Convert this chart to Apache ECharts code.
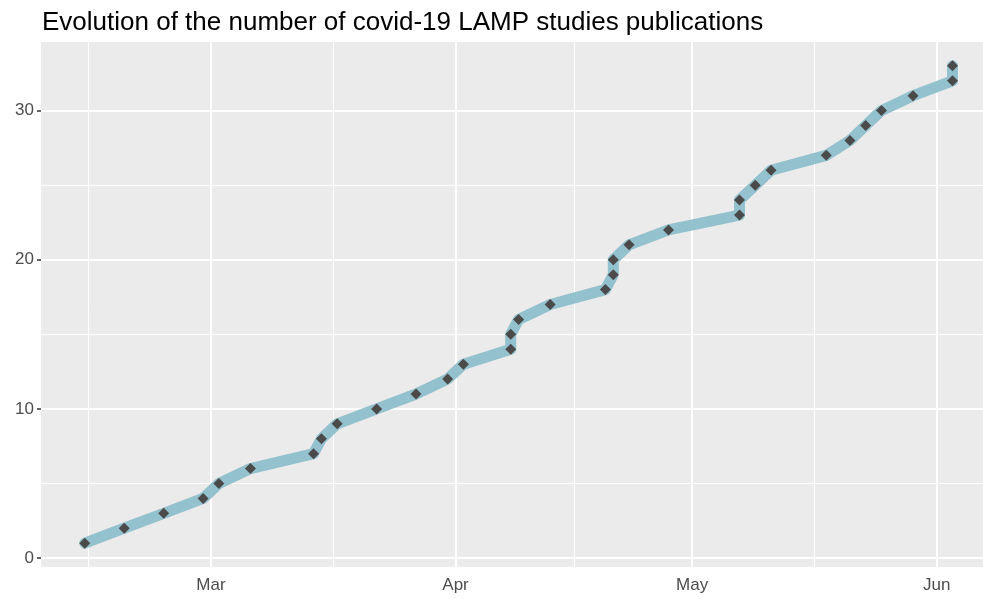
<!DOCTYPE html>
<html>
<head>
<meta charset="utf-8">
<script src="https://cdn.jsdelivr.net/npm/echarts@6/dist/echarts.min.js"></script>
<style>html,body{margin:0;padding:0;background:#fff;}#c{width:983px;height:598px;}</style>
</head>
<body>
<div id="c"></div>
<script>
// ---- data ----
var dates = ['2020-02-14','2020-02-19','2020-02-24','2020-02-29','2020-03-02','2020-03-06',
  '2020-03-14','2020-03-15','2020-03-17','2020-03-22','2020-03-27','2020-03-31','2020-04-02',
  '2020-04-08','2020-04-08','2020-04-09','2020-04-13','2020-04-20','2020-04-21','2020-04-21',
  '2020-04-23','2020-04-28','2020-05-07','2020-05-07','2020-05-09','2020-05-11','2020-05-18',
  '2020-05-21','2020-05-23','2020-05-25','2020-05-29','2020-06-03','2020-06-03'];
var counts = [1,2,3,4,5,6,7,8,9,10,11,12,13,14,15,16,17,18,19,20,21,22,23,24,25,26,27,28,29,30,31,32,33];
var monthTickDates = ['2020-03-01','2020-04-01','2020-05-01','2020-06-01'];
var monthLabels = ['Mar','Apr','May','Jun'];
var minorXDates = ['2020-02-14T12:00','2020-03-16T12:00','2020-04-16T00:00','2020-05-16T12:00'];
var yTicks = [0,10,20,30];
var yMinor = [5,15,25];

function toUTC(s){
  var p = s.split('T'); var d = p[0].split('-');
  var h = p[1] ? +p[1].split(':')[0] : 0;
  return Date.UTC(+d[0], +d[1]-1, +d[2], h);
}
var DAY = 864e5;
var seriesData = dates.map(function(d,i){ return [toUTC(d), counts[i]]; });
var tickVals = monthTickDates.map(toUTC);
var xMin = toUTC('2020-03-01') - 21.55*DAY;
var xMax = toUTC('2020-06-01') + 5.87*DAY;

var gridLines = [];
tickVals.forEach(function(v){ gridLines.push({xAxis:v, lineStyle:{color:'#fff', width:2, type:'solid'}}); });
minorXDates.forEach(function(s){ gridLines.push({xAxis:toUTC(s), lineStyle:{color:'#fff', width:1, type:'solid'}}); });
yTicks.forEach(function(v){ gridLines.push({yAxis:v, lineStyle:{color:'#fff', width:2, type:'solid'}}); });
yMinor.forEach(function(v){ gridLines.push({yAxis:v, lineStyle:{color:'#fff', width:1, type:'solid'}}); });

var chart = echarts.init(document.getElementById('c'), null, {renderer:'canvas'});
chart.setOption({
  animation: false,
  backgroundColor: '#ffffff',
  title: {
    text: 'Evolution of the number of covid-19 LAMP studies publications',
    left: 37, top: 5,
    textStyle: {fontFamily:'Liberation Sans', fontSize:26, fontWeight:'normal', color:'#000'}
  },
  grid: {left:41, right:0, top:42, bottom:31, show:true, backgroundColor:'#ebebeb', borderWidth:0},
  xAxis: {
    type:'value', min:xMin, max:xMax, scale:true,
    axisLine:{show:false},
    splitLine:{show:false},
    axisTick:{show:true, customValues:tickVals, length:4, lineStyle:{color:'#333', width:1.5}},
    axisLabel:{
      customValues:tickVals, color:'#4d4d4d', fontSize:17, fontFamily:'Liberation Sans', margin:10,
      formatter:function(v){ var i = tickVals.indexOf(v); return i>=0 ? monthLabels[i] : ''; }
    }
  },
  yAxis: {
    type:'value', min:-0.6, max:34.6,
    axisLine:{show:false},
    splitLine:{show:false},
    axisTick:{show:true, customValues:yTicks, length:4, lineStyle:{color:'#333', width:1.5}},
    axisLabel:{customValues:yTicks, color:'#4d4d4d', fontSize:17, fontFamily:'Liberation Sans', margin:7}
  },
  series: [
    {
      type:'line', data:[], silent:true, z:1,
      markLine:{silent:true, z:1, symbol:['none','none'], label:{show:false}, animation:false, data:gridLines}
    },
    {
      type:'line', data:seriesData, z:10,
      showAllSymbol:true, symbol:'diamond', symbolSize:11,
      itemStyle:{color:'#4a4a4a'},
      lineStyle:{color:'#93c1cd', width:11, cap:'round', join:'round'}
    }
  ]
});
</script>
</body>
</html>
